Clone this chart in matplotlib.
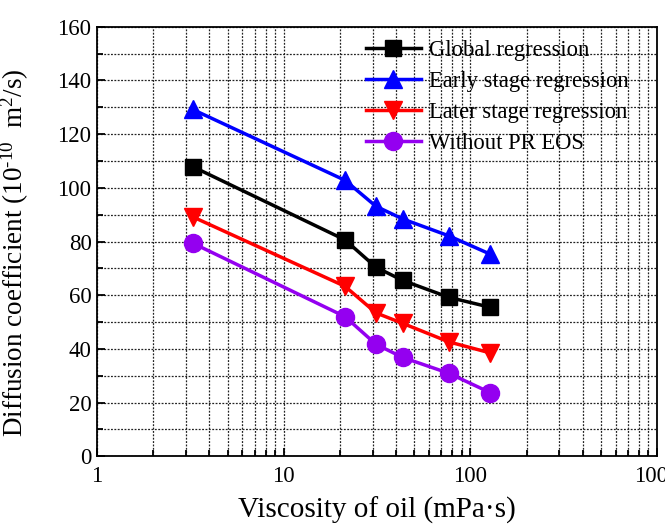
import numpy as np
import matplotlib
matplotlib.use('Agg')
import matplotlib.pyplot as plt
from matplotlib.ticker import MultipleLocator, LogLocator, NullFormatter, FixedLocator

# Données
viscosity = [3.25, 21.3, 31.2, 43.4, 76.7, 127.6]
global_reg = [107.9, 80.6, 70.4, 65.5, 59.2, 55.5]
early_reg = [129.2, 102.8, 93.1, 88.4, 82.1, 75.3]
later_reg = [89.2, 63.3, 53.4, 49.5, 42.6, 38.5]
without_pr = [79.4, 52.0, 41.7, 36.8, 30.9, 23.7]

x_ticks = [1, 10, 100, 1000]
x_labels = ['1', '10', '100', '1000']

plt.rcParams['font.family'] = ['Liberation Serif', 'DejaVu Serif']
plt.rcParams['mathtext.fontset'] = 'custom'
plt.rcParams['mathtext.rm'] = 'Liberation Serif'
plt.rcParams['mathtext.it'] = 'Liberation Serif:italic'

fig = plt.figure(figsize=(6.65, 5.25), dpi=100)
ax = fig.add_axes([0.146, 0.131, 0.842, 0.818])

ax.plot(viscosity, global_reg, '-s', color='black', lw=2.5, ms=11.5, label='Global regression')
ax.plot(viscosity, early_reg, '-^', color='#0000ff', lw=2.5, ms=13, label='Early stage regression')
ax.plot(viscosity, later_reg, '-v', color='#ff0000', lw=2.5, ms=13, label='Later stage regression')
ax.plot(viscosity, without_pr, '-o', color='#9400f0', lw=2.5, ms=13, label='Without PR EOS')

ax.set_xscale('log')
ax.set_xlim(1, 1000)
ax.set_ylim(0, 160)
ax.xaxis.set_major_locator(FixedLocator(x_ticks))
ax.set_xticklabels(x_labels)
ax.xaxis.set_minor_locator(LogLocator(base=10, subs=np.arange(2, 10)))
ax.xaxis.set_minor_formatter(NullFormatter())
ax.yaxis.set_major_locator(MultipleLocator(20))
ax.yaxis.set_minor_locator(MultipleLocator(10))

ax.grid(True, which='both', color='#222222', linestyle=(0, (1.5, 1.2)), linewidth=0.9)
ax.set_axisbelow(True)

ax.tick_params(which='both', direction='in', labelsize=16.5, width=1.3)
ax.tick_params(axis='y', which='major', length=6, pad=4)
ax.tick_params(axis='x', which='major', length=6, pad=7)
ax.tick_params(which='minor', length=4)
for s in ax.spines.values():
    s.set_linewidth(1.3)

ax.set_xlabel('Viscosity of oil (mPa·s)', fontsize=21, labelpad=7)
ax.set_ylabel(r'Diffusion coefficient (10$^{\text{-10}}$  m$^{\text{2}}$/s)', fontsize=19.5)
ax.yaxis.set_label_coords(-0.118, 0.475)

ax.legend(loc='upper right', bbox_to_anchor=(0.973, 1.0), frameon=False, fontsize=16.3,
          handlelength=2.4, handletextpad=0.35, labelspacing=0.43, borderaxespad=0.2)

fig.savefig('out.png', dpi=100)
